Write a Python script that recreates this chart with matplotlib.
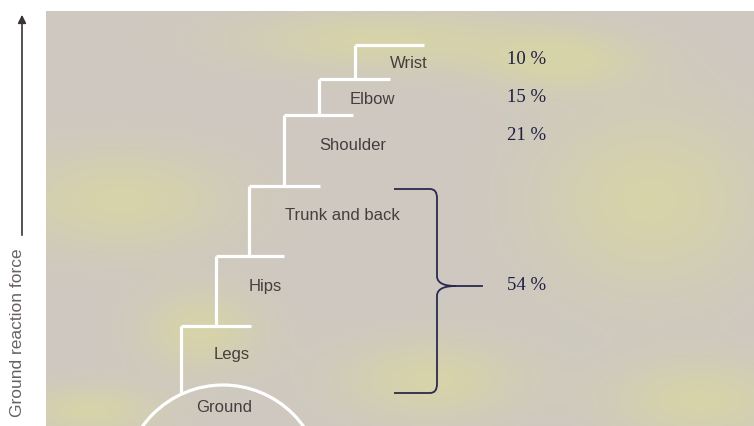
import numpy as np
import matplotlib
matplotlib.use("Agg")
import matplotlib.pyplot as plt
from matplotlib.path import Path
import matplotlib.patches as mpatches

W, H = 754, 426

# body segments, from top (wrist) to bottom (legs)
segments = ["Wrist", "Elbow", "Shoulder", "Trunk and back", "Hips", "Legs"]
seg_percent = ["10 %", "15 %", "21 %"]
combined_percent = "54 %"
ground_label = "Ground"
axis_label = "Ground reaction force"

# step geometry (pixel coords, y downwards)
step_x = [355, 319, 284, 249, 216, 181]
step_top = [45, 79, 115, 186, 256, 326]
step_bottom = [79, 115, 186, 256, 326, 393]
step_right = [424, 390, 353, 320, 284, 251]
label_xy = [(409, 64), (372, 99), (353, 145), (342, 215), (265, 286), (232, 355)]
pct_y = [60, 97, 136]

fig = plt.figure(figsize=(W / 100, H / 100), dpi=100)
ax = fig.add_axes([0, 0, 1, 1])
ax.set_xlim(0, W)
ax.set_ylim(H, 0)
ax.axis("off")
fig.patch.set_facecolor("white")

# mottled paper background
yy, xx = np.mgrid[0:H, 0:W]
blobs = [(120, 200, 110, 50), (90, 410, 70, 25), (380, 40, 140, 30),
         (650, 200, 110, 90), (700, 400, 90, 40), (430, 380, 90, 40),
         (560, 60, 80, 30), (200, 330, 60, 40)]
yel = np.zeros((H, W))
for bx, by, sx, sy in blobs:
    yel += np.exp(-(((xx - bx) / sx) ** 2 + ((yy - by) / sy) ** 2))
yel = np.clip(yel, 0, 1)[..., None] * 0.85
gray = np.array([206, 200, 193]) / 255
yellow = np.array([216, 213, 165]) / 255
bg = gray * (1 - yel) + yellow * yel
ax.imshow(bg[11:, 46:], extent=[46, W, H, 11], zorder=0, interpolation="bilinear")

# staircase
for i in range(len(segments)):
    ax.plot([step_x[i], step_right[i]], [step_top[i], step_top[i]],
            color="white", lw=2.3, solid_capstyle="butt", zorder=2)
    ax.plot([step_x[i], step_x[i]], [step_top[i], step_bottom[i]],
            color="white", lw=2.3, solid_capstyle="butt", zorder=2)
    ax.text(label_xy[i][0], label_xy[i][1], segments[i], ha="center", va="center",
            fontsize=12, family="Liberation Sans", color="#463e3e", zorder=3)

# ground arc (y axis is inverted, so the top half is 180..360)
arc = mpatches.Arc((223, 484), 198, 198, theta1=180, theta2=360,
                   color="white", lw=2.3, zorder=2)
ax.add_patch(arc)
ax.text(224, 408, ground_label, ha="center", va="center", fontsize=12,
        family="Liberation Sans", color="#463e3e", zorder=3)

# percentages
for p, y in zip(seg_percent, pct_y):
    ax.text(507, y, p, ha="left", va="center", fontsize=13.5,
            family="Liberation Serif", color="#1e1e44")
ax.text(507, 286, combined_percent, ha="left", va="center", fontsize=13.5,
        family="Liberation Serif", color="#1e1e44")

# curly brace
verts = [(394, 189), (430, 189), (437, 189), (437, 198),
         (437, 276),
         (437, 284), (446, 286), (456, 286),
         (446, 286), (437, 288), (437, 296),
         (437, 384),
         (437, 393), (430, 393), (394, 393)]
codes = [Path.MOVETO, Path.LINETO, Path.CURVE3, Path.CURVE3,
         Path.LINETO,
         Path.CURVE4, Path.CURVE4, Path.CURVE4,
         Path.CURVE4, Path.CURVE4, Path.CURVE4,
         Path.LINETO,
         Path.CURVE3, Path.CURVE3, Path.LINETO]
ax.add_patch(mpatches.PathPatch(Path(verts, codes), fill=False,
                                edgecolor="#2a2a4e", lw=1.3, zorder=3))
ax.plot([455, 482], [286, 286], color="#2a2a4e", lw=1.3, zorder=3)

# vertical axis arrow + label
ax.annotate("", xy=(22, 12), xytext=(22, 238),
            arrowprops=dict(arrowstyle="-|>", color="#3a3535", lw=1.2,
                            mutation_scale=12))
ax.text(18, 333, axis_label, rotation=90, ha="center", va="center",
        fontsize=12.5, family="Liberation Sans", color="#6a6262")

fig.savefig("out.png", dpi=100)
